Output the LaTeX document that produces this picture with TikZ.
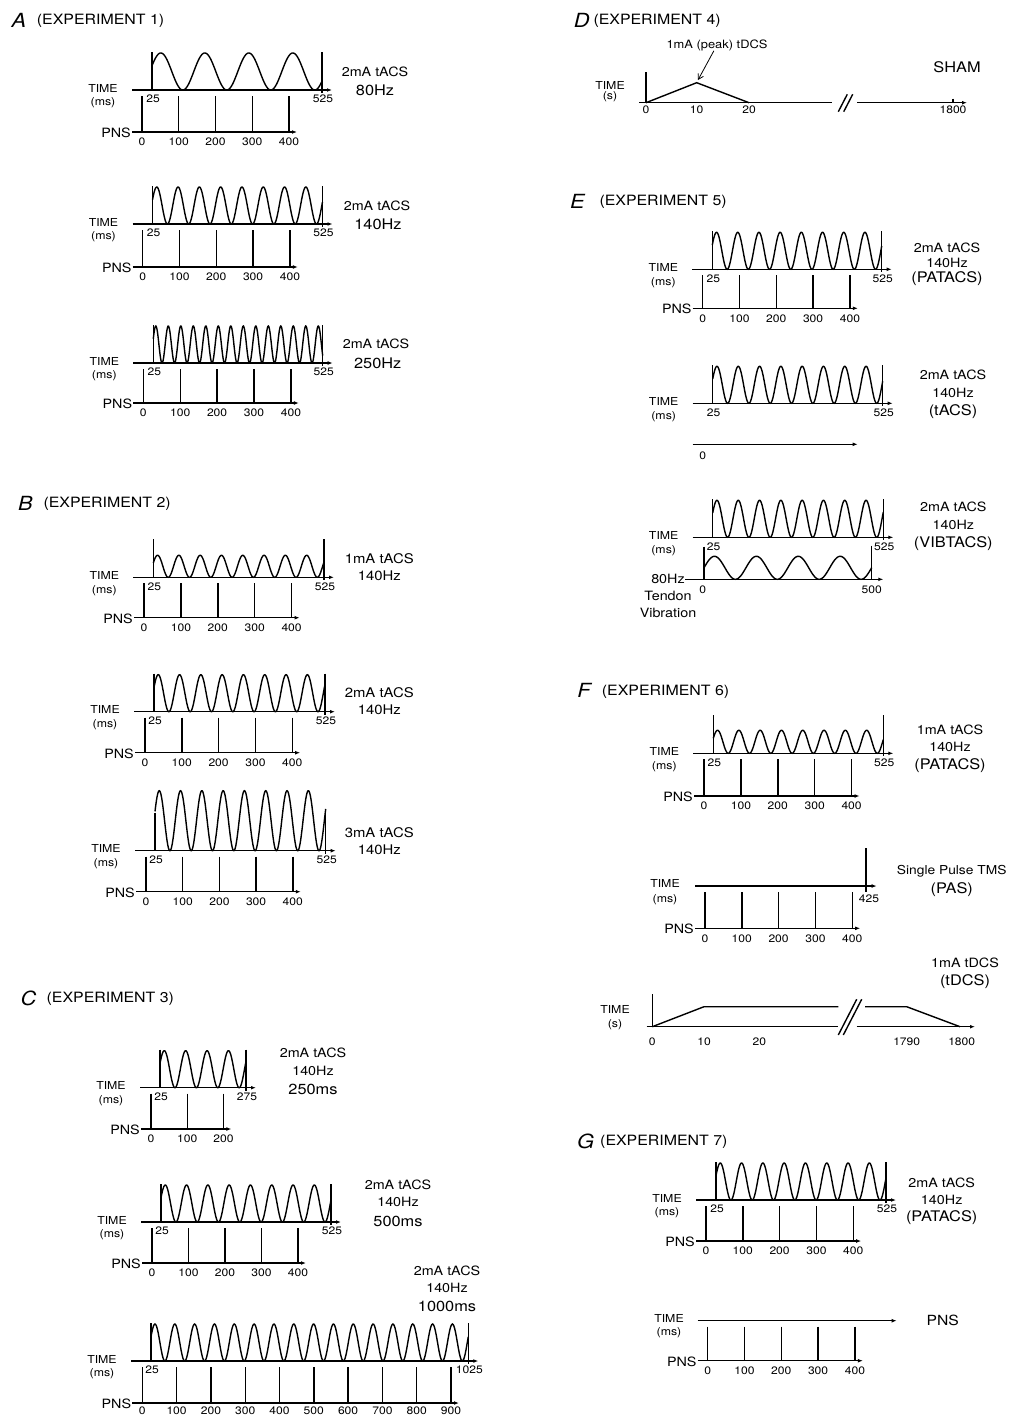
\documentclass[tikz,border=0pt]{standalone}
\usepackage{fontspec}
\setmainfont{TeX Gyre Heros}[FakeStretch=1.12]
\usepackage{tikz}
\usetikzlibrary{arrows.meta,positioning}

% tACS block: name, start x, end x, axis y, period, peak-to-peak, end label
\newcommand{\tacsrow}[7]{%
  \pgfmathsetmacro{\wavea}{#2}\pgfmathsetmacro{\waveb}{#3}%
  \pgfmathsetmacro{\wavek}{360/#5}%
  \draw[taxis] (#2-20,#4) -- (#3+10,#4);
  \draw[sig] (#2,#4-38) -- (#2,#4);
  \draw[sig] (#3,#4-38) -- (#3,#4+3);
  \draw[sig] plot[domain=\wavea:\waveb, samples=400]
    (\x, {#4-#6/2-#6/2*cos(\wavek*(\x-\wavea-0.2*#5))});
  \node[ticklbl] (#1s) at (#2+1,#4+9) {25};
  \node[ticklbl] (#1e) at (#3+1,#4+9) {#7};
  \node[lbl] (#1time) at (#2-49,#4-2) {TIME};
  \node[lbl] (#1unit) at (#2-49,#4+13) {(ms)};
}
% PNS block: name, first pulse x, time axis y, PNS axis y, last index, spacing, label drop
\newcommand{\pnsrow}[7]{%
  \draw[taxis] (#2-10,#4) -- (#2+#5*#6+8,#4);
  \foreach \k in {0,...,#5}{%
    \pgfmathtruncatemacro{\pnsms}{100*\k}%
    \draw[sig] (#2+\k*#6,#3+6) -- (#2+\k*#6,#4);
    \node[ticklbl] (#1t\k) at (#2+\k*#6,#4+#7) {\pnsms};
  }
  \node[pnslbl] (#1pns) at (#2-11,#4+1) {PNS};
}

\begin{document}
\begin{tikzpicture}[
  x=1pt, y=-1pt,
  taxis/.style={line width=1.4pt, -{Latex[length=5pt,width=3.8pt]}},
  sig/.style={line width=1.4pt},
  lbl/.style={font=\fontsize{11}{13}\selectfont, inner sep=0pt},
  ticklbl/.style={font=\fontsize{10.8}{12}\selectfont, inner sep=0pt},
  pnslbl/.style={font=\fontsize{12.8}{14}\selectfont, inner sep=0pt, anchor=east},
  note/.style={font=\fontsize{12.8}{14}\selectfont, inner sep=0pt},
  notec/.style={font=\fontsize{13.3}{15}\selectfont, inner sep=0pt},
  bigl/.style={font=\fontsize{14.6}{16}\selectfont, inner sep=0pt},
  modelbl/.style={font=\fontsize{14.6}{16}\selectfont, inner sep=0pt},
  letter/.style={font=\fontsize{19.5}{21}\selectfont\itshape, inner sep=0pt},
  head/.style={font=\fontsize{14.2}{16}\selectfont, inner sep=0pt, anchor=west},
  pointer/.style={line width=0.8pt, -{Straight Barb[length=5pt,width=6pt]}}
]
\useasboundingbox (0,0) rectangle (1009,1417);

% A
\node[letter] (pa) at (19,20) {A};
\node[head] (pah) at (36.7,21) {(EXPERIMENT 1)};
\tacsrow{a1}{152}{322}{90}{44}{37}{525}
\pnsrow{a1}{142}{90}{132}{4}{36.75}{10}
\node[note] (a1cur) at (375,72) {2mA tACS};
\node[bigl] (a1freq) at (375,90) {80Hz};

\tacsrow{a2}{152.5}{322.5}{224}{21.3}{37}{525}
\pnsrow{a2}{142.7}{224}{267}{4}{36.8}{10}
\node[note] (a2cur) at (377,206) {2mA tACS};
\node[bigl] (a2freq) at (378,224.3) {140Hz};

\tacsrow{a3}{153.3}{322.7}{363}{12.5}{37}{525}
\pnsrow{a3}{143.3}{363}{403}{4}{36.9}{10}
\node[note] (a3cur) at (376,344) {2mA tACS};
\node[bigl] (a3freq) at (377.7,363.3) {250Hz};

% B
\node[letter] (pb) at (25.3,503) {B};
\node[head] (pbh) at (43.3,504) {(EXPERIMENT 2)};
\tacsrow{b1}{153.3}{324}{577.3}{21.3}{22}{525}
\pnsrow{b1}{144}{577.3}{617.7}{4}{36.9}{10}
\node[notec] (b1cur) at (379.3,558.3) {1mA tACS};
\node[notec] (b1freq) at (379.3,575.7) {140Hz};

\tacsrow{b2}{154}{325}{711.7}{21.3}{37}{525}
\pnsrow{b2}{145}{711.7}{752.7}{4}{36.8}{10}
\node[notec] (b2cur) at (379.3,692.7) {2mA tACS};
\node[notec] (b2freq) at (379.3,710) {140Hz};

\tacsrow{b3}{155}{325.7}{850.7}{21.3}{60}{525}
\pnsrow{b3}{146}{850.7}{891.7}{4}{36.7}{10}
\node[notec] (b3cur) at (379.3,832.3) {3mA tACS};
\node[notec] (b3freq) at (379.3,850) {140Hz};

% C
\node[letter] (pc) at (28.5,998) {C};
\node[head] (pch) at (46.5,999) {(EXPERIMENT 3)};
\tacsrow{c1}{160}{246}{1087.7}{21.4}{37}{275}
\pnsrow{c1}{151}{1087.7}{1129}{2}{36.2}{10}
\node[note] (c1cur) at (313,1053) {2mA tACS};
\node[note] (c1freq) at (313,1071) {140Hz};
\node[bigl] (c1dur) at (313,1089) {250ms};

\tacsrow{c2}{161}{331}{1222}{21.3}{37}{525}
\pnsrow{c2}{152}{1222}{1263}{4}{36.5}{10}
\node[note] (c2cur) at (398,1185) {2mA tACS};
\node[note] (c2freq) at (398,1202) {140Hz};
\node[bigl] (c2dur) at (398,1221) {500ms};

\tacsrow{c3}{151}{468.3}{1361}{19.83}{37}{1025}
\pnsrow{c3}{142.3}{1361}{1403}{9}{34.3}{8.2}
\node[note] (c3cur) at (447,1271) {2mA tACS};
\node[note] (c3freq) at (447,1288) {140Hz};
\node[bigl] (c3dur) at (447,1306) {1000ms};

% D
\node[letter] (pd) at (581.7,20) {D};
\node[head] (pdh) at (593.3,21) {(EXPERIMENT 4)};
\draw[sig] (646,72) -- (646,102.7);
\draw[sig] (639,102.7) -- (832,102.7);
\draw[sig] (838.3,111.7) -- (847.3,94.3) (843.7,111.7) -- (852.7,94.3);
\draw[taxis] (857,102.7) -- (967,102.7);
\draw[sig] (953,98.7) -- (953,102.7);
\draw[sig] (646,102.7) -- (696.7,82.7) -- (749,102.7);
\coordinate (dpeak) at (698,80);
\node[note, font=\fontsize{11.5}{13}\selectfont] (dnote) at (717,45) {1mA (peak) tDCS};
\draw[pointer] (dnote) -- (dpeak);
\node[lbl] (dtime) at (610,85) {TIME};
\node[lbl] (dunit) at (610,97) {(s)};
\node[ticklbl] (dt0) at (646,110) {0};
\node[ticklbl] (dt10) at (696.7,110) {10};
\node[ticklbl] (dt20) at (749,110) {20};
\node[ticklbl] (dtend) at (953,110) {1800};
\node[modelbl] (dsham) at (957,67) {SHAM};

% E
\node[letter] (pe) at (577.5,201) {E};
\node[head] (peh) at (599.3,202) {(EXPERIMENT 5)};
\tacsrow{e1}{712.3}{881.7}{269.3}{21.2}{37}{525}
\pnsrow{e1}{702.7}{269.3}{308.3}{4}{36.8}{10}
\node[note] (e1cur) at (947,248) {2mA tACS};
\node[note] (e1freq) at (947,263) {140Hz};
\node[modelbl] (e1mode) at (947,279) {(PATACS)};

\tacsrow{e2}{712.7}{882.7}{403.3}{21.3}{37}{525}
\draw[taxis] (692.7,444.3) -- (857.7,444.3);
\node[ticklbl] (e2t0) at (702.7,455.7) {0};
\node[note] (e2cur) at (953,375) {2mA tACS};
\node[note] (e2freq) at (953,393.3) {140Hz};
\node[modelbl] (e2mode) at (953,411.7) {(tACS)};

\tacsrow{e3}{712.7}{883.3}{537.3}{21.3}{37}{525}
\draw[taxis] (685,579.3) -- (883.3,579.3);
\draw[sig] (704,546.7) -- (704,579.3);
\draw[sig] (871.7,545.7) -- (871.7,579.3);
\draw[sig] plot[domain=704:871.7, samples=300]
  (\x, {579.3-11.5-11.5*cos(8.592*(\x-704-0.25*41.9))});
\node[ticklbl] (e3v0) at (702.7,590) {0};
\node[ticklbl] (e3v500) at (871.7,590) {500};
\node[notec, align=center, font=\fontsize{12.8}{16.7}\selectfont] (e3vib) at (668,596) {80Hz\\Tendon\\Vibration};
\node[note] (e3cur) at (953.3,506.7) {2mA tACS};
\node[note] (e3freq) at (953.3,525) {140Hz};
\node[modelbl] (e3mode) at (953.3,543.3) {(VIBTACS)};

% F
\node[letter] (pf) at (584,690.5) {F};
\node[head] (pfh) at (601.7,691.5) {(EXPERIMENT 6)};
\tacsrow{f1}{713.3}{883.3}{753.3}{21.3}{23}{525}
\pnsrow{f1}{704}{753.3}{796}{4}{36.9}{10}
\node[note] (f1cur) at (950,730) {1mA tACS};
\node[note] (f1freq) at (950,746.7) {140Hz};
\node[modelbl] (f1mode) at (950,765.7) {(PATACS)};

\draw[taxis] (695,886) -- (876.7,886);
\draw[sig] (866,848.3) -- (866,892);
\node[ticklbl] (f2e) at (869,899) {425};
\node[lbl] (f2time) at (665,883.3) {TIME};
\node[lbl] (f2unit) at (665,900) {(ms)};
\pnsrow{f2}{705}{886}{928.3}{4}{36.8}{10}
\node[note, font=\fontsize{12.3}{14}\selectfont] (f2cur) at (951.7,871.7) {Single Pulse TMS};
\node[modelbl] (f2mode) at (951.7,890) {(PAS)};

\draw[sig] (652.3,994) -- (652.3,1026.7);
\draw[sig] (646.7,1026.7) -- (838.3,1026.7);
\draw[sig] (838.3,1035) -- (856.7,999.3) (843.3,1035) -- (861.7,999.3);
\draw[taxis] (856.7,1026.7) -- (975,1026.7);
\draw[sig] (652.3,1026.7) -- (704,1006.7) -- (838.3,1006.7);
\draw[sig] (865,1006.7) -- (906.7,1006.7) -- (960,1026.7);
\node[lbl] (f3time) at (615,1009.3) {TIME};
\node[lbl] (f3unit) at (615,1025) {(s)};
\node[ticklbl] (f3t0) at (652.3,1041.7) {0};
\node[ticklbl] (f3t10) at (704,1041.7) {10};
\node[ticklbl] (f3t20) at (759.3,1041.7) {20};
\node[ticklbl] (f3t1790) at (906.7,1041.7) {1790};
\node[ticklbl] (f3t1800) at (961.7,1041.7) {1800};
\node[note] (f3cur) at (965,963.3) {1mA tDCS};
\node[modelbl] (f3mode) at (965,981.7) {(tDCS)};

% G
\node[letter] (pg) at (585.5,1141) {G};
\node[head] (pgh) at (600,1142) {(EXPERIMENT 7)};
\tacsrow{g1}{716}{886}{1200}{21.3}{37}{525}
\pnsrow{g1}{706}{1200}{1241}{4}{36.8}{10}
\node[note] (g1cur) at (941.7,1183.3) {2mA tACS};
\node[note] (g1freq) at (941.7,1200) {140Hz};
\node[modelbl] (g1mode) at (941.7,1217.3) {(PATACS)};

\draw[taxis] (697.7,1320.7) -- (896.7,1320.7);
\node[lbl] (g2time) at (669,1318.3) {TIME};
\node[lbl] (g2unit) at (669,1332.7) {(ms)};
\pnsrow{g2}{707.7}{1320.7}{1360.7}{4}{36.8}{10}
\node[modelbl, font=\fontsize{14}{16}\selectfont] (g2mode) at (942.7,1320) {PNS};
\end{tikzpicture}
\end{document}
